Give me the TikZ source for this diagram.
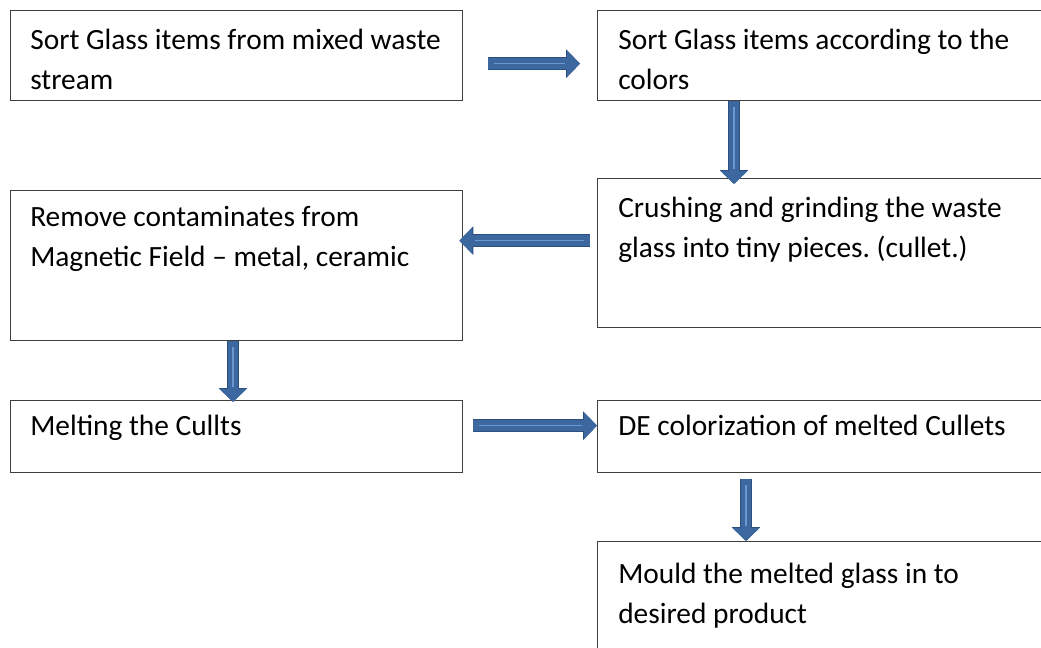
\documentclass[tikz,border=0pt]{standalone}
\usepackage{fontspec}
\setmainfont{Carlito}
\usepackage{xcolor}
\usepackage{tikz}
\usetikzlibrary{arrows.meta, positioning}
\definecolor{glassink}{HTML}{3F3F3F}
\definecolor{flowblue}{HTML}{3D679F}
\definecolor{flowedge}{HTML}{2D4F80}
\definecolor{flowshine}{HTML}{6C98D0}
\frenchspacing

\begin{document}
\begin{tikzpicture}[
        x=0.025cm, y=-0.025cm,
        stage/.style={
            rectangle,
            draw=glassink,
            line width=0.9pt,
            anchor=north west,
            inner sep=0pt
        },
        widebox/.style={stage, minimum width=11.3cm},
        openbox/.style={stage, minimum width=12.5cm},
        stagetext/.style={
            anchor=base west,
            inner sep=0pt,
            align=left,
            font=\fontsize{20.9}{28.4}\selectfont
        },
        flow/.style={
            -{Triangle[length=9.2pt, width=18.4pt]},
            line width=7.8pt,
            draw=flowblue,
            preaction={draw=flowedge, line width=8.8pt,
                -{Triangle[length=9.9pt, width=19.8pt]}},
            postaction={draw=flowshine, line width=1.1pt, -,
                shorten <=4pt, shorten >=11pt}
        }
    ]
        \useasboundingbox (0,0) rectangle (1041,647);
        \clip (0,0) rectangle (1041,647);

        \node[widebox, minimum height=2.25cm] (sort) at (10,10) {};
        \node[openbox, minimum height=2.25cm] (colour) at (597,10) {};
        \node[openbox, minimum height=3.725cm] (crush) at (597,178) {};
        \node[widebox, minimum height=3.75cm] (remove) at (10,190) {};
        \node[widebox, minimum height=1.8cm] (melt) at (10,400) {};
        \node[openbox, minimum height=1.8cm] (decolour) at (597,400) {};
        \node[openbox, minimum height=4cm] (mould) at (597,541) {};

        % base anchor sits on the last line
        \node[stagetext] (sorttext) at ([shift={(20,79)}]sort.north west)
            {Sort Glass items from mixed waste\\stream};
        \node[stagetext] (colourtext) at ([shift={(21,79)}]colour.north west)
            {Sort Glass items according to the\\colors};
        \node[stagetext] (crushtext) at ([shift={(21,79)}]crush.north west)
            {Crushing and grinding the waste\\glass into tiny pieces. (cullet.)};
        \node[stagetext] (removetext) at ([shift={(20,76)}]remove.north west)
            {Remove contaminates from\\Magnetic Field -- metal, ceramic};
        \node[stagetext] (melttext) at ([shift={(20,35)}]melt.north west)
            {Melting the Cullts};
        \node[stagetext] (decolourtext) at ([shift={(21,35)}]decolour.north west)
            {DE colorization of melted Cullets};
        \node[stagetext] (mouldtext) at ([shift={(21,82)}]mould.north west)
            {Mould the melted glass in to\\desired product};

        \draw[flow] ([shift={(25,8)}]sort.east) -- ([shift={(-17,8)}]colour.west);
        \draw[flow] ([shift={(137,0)}]colour.south west) -- ([shift={(137,6)}]crush.north west);
        \draw[flow] ([shift={(-7,-12.5)}]crush.west) -- ([shift={(-4,-25)}]remove.east);
        \draw[flow] ([shift={(223,0)}]remove.south west) -- ([shift={(223,2)}]melt.north west);
        \draw[flow] ([shift={(10,-11)}]melt.east) -- ([shift={(0,-11)}]decolour.west);
        \draw[flow] ([shift={(149,6)}]decolour.south west) -- ([shift={(149,0)}]mould.north west);
    \end{tikzpicture}
\end{document}
